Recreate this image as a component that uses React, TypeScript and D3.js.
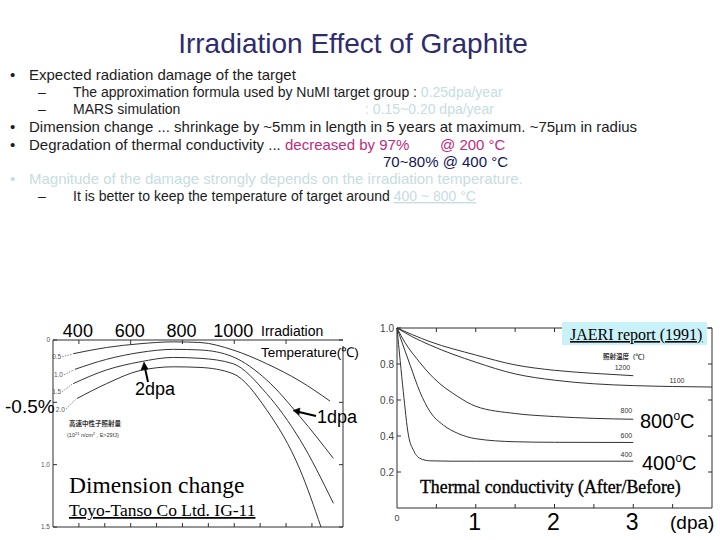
import React from 'react';
import * as d3 from 'd3';

// ---------- Left chart: dimension change (%) vs irradiation temperature (°C) ----------
const dimTemps05 = [378, 507, 636, 765, 868, 995, 1125, 1254, 1370];
const dimVals05 = [-0.11, -0.06, -0.03, -0.015, -0.02, -0.08, -0.19, -0.33, -0.49];
const dimTemps10 = [385, 507, 636, 765, 868, 995, 1125, 1254, 1383];
const dimVals10 = [-0.235, -0.155, -0.1, -0.075, -0.08, -0.135, -0.32, -0.615, -0.95];
const dimTemps15 = [378, 507, 636, 765, 868, 995, 1125, 1254, 1383];
const dimVals15 = [-0.35, -0.24, -0.175, -0.14, -0.147, -0.19, -0.43, -0.8, -1.31];
const dimTemps20 = [392, 507, 636, 765, 868, 995, 1125, 1254, 1335];
const dimVals20 = [-0.47, -0.35, -0.245, -0.215, -0.22, -0.27, -0.56, -1.04, -1.5];
const fluenceLabels = ['0.5', '1.0', '1.5', '2.0'];
const tempTickLabels = [400, 600, 800, 1000];
const tempMinorTicks = [400, 500, 600, 700, 800, 900, 1000, 1100, 1200, 1300];
const dimYTicks = [0, -0.5, -1.0, -1.5];
const dimYTickLabels = ['0', '', '1.0', '1.5'];

// ---------- Right chart: thermal conductivity ratio vs dpa ----------
const tcDpa1200 = [0, 0.2, 0.42, 1.0, 1.5, 2.0, 2.5, 3.0];
const tcVal1200 = [1, 0.962, 0.924, 0.85, 0.795, 0.765, 0.748, 0.735];
const tcDpa1100 = [0, 0.2, 0.42, 1.0, 1.5, 2.0, 2.5, 3.0, 3.5, 4.0];
const tcVal1100 = [1, 0.95, 0.905, 0.81, 0.745, 0.71, 0.69, 0.68, 0.675, 0.672];
const tcDpa800 = [0, 0.1, 0.25, 0.47, 0.77, 1.0, 1.5, 2.0, 2.5, 3.0];
const tcVal800 = [1, 0.92, 0.83, 0.72, 0.62, 0.565, 0.525, 0.508, 0.498, 0.493];
const tcDpa600 = [0, 0.08, 0.17, 0.29, 0.42, 0.59, 0.77, 1.0, 1.5, 2.0, 3.0];
const tcVal600 = [1, 0.9, 0.79, 0.646, 0.535, 0.46, 0.415, 0.385, 0.368, 0.365, 0.364];
const tcDpa400 = [0, 0.04, 0.08, 0.145, 0.21, 0.29, 0.42, 0.7, 1.0, 3.0];
const tcVal400 = [1, 0.82, 0.646, 0.405, 0.32, 0.276, 0.262, 0.26, 0.26, 0.26];
const tcTempLabels = ['1200', '1100', '800', '600', '400'];
const tcYTicks = [0.2, 0.4, 0.6, 0.8, 1.0];
const tcXTicks = [0.5, 1, 1.5, 2, 2.5, 3, 3.5];
const tcXBigLabels = [1, 2, 3];

const SANS = "'Liberation Sans', Arial, sans-serif";
const SERIF = "'Liberation Serif', 'Times New Roman', serif";
const CJK = "'Noto Sans CJK JP', sans-serif";
const DARK = '#1c1c1c';
const LIGHT = '#c6dde1';
const MAGENTA = '#c02c7c';
const NAVY = '#15145a';
const SCAN = '#2e2e2e';

export default function App() {
  // left chart scales
  const xL = d3.scaleLinear().domain([300, 1420]).range([53, 343]);
  const yL = d3.scaleLinear().domain([0, -1.5]).range([340, 527]);
  // right chart scales
  const xR = d3.scaleLinear().domain([0, 4]).range([397, 712]);
  const yR = d3.scaleLinear().domain([0, 1]).range([508, 328]);

  const dimSeries = [
    { t: dimTemps05, v: dimVals05 },
    { t: dimTemps10, v: dimVals10 },
    { t: dimTemps15, v: dimVals15 },
    { t: dimTemps20, v: dimVals20 },
  ];
  const tcSeries = [
    { d: tcDpa1200, v: tcVal1200, lab: 3.0, dx: -3, dy: -6 },
    { d: tcDpa1100, v: tcVal1100, lab: 3.65, dx: 0, dy: -4 },
    { d: tcDpa800, v: tcVal800, lab: 3.0, dx: -1, dy: -6 },
    { d: tcDpa600, v: tcVal600, lab: 3.0, dx: -1, dy: -4 },
    { d: tcDpa400, v: tcVal400, lab: 3.0, dx: -1, dy: -4 },
  ];

  const lineL = d3
    .line<[number, number]>()
    .x((p) => xL(p[0]))
    .y((p) => yL(p[1]))
    .curve(d3.curveMonotoneX);
  const lineR = d3
    .line<[number, number]>()
    .x((p) => xR(p[0]))
    .y((p) => yR(p[1]))
    .curve(d3.curveMonotoneX);

  const interp = (xs: number[], ys: number[], x: number) => {
    for (let i = 1; i < xs.length; i++) {
      if (x <= xs[i]) {
        const f = (x - xs[i - 1]) / (xs[i] - xs[i - 1]);
        return ys[i - 1] + f * (ys[i] - ys[i - 1]);
      }
    }
    return ys[ys.length - 1];
  };

  const L0 = xL(300), L1 = xL(1420), T0 = yL(0), B0 = yL(-1.5);
  const R0 = xR(0), R1 = xR(4), RT = yR(1), RB = yR(0);

  return (
    <svg
      width={720}
      height={540}
      viewBox="0 0 720 540"
      style={{ position: 'absolute', left: 0, top: 0, background: '#fff' }}
    >
      <rect x={0} y={0} width={720} height={540} fill="#fff" />
      {/* Title */}
      <text x={353} y={53} fontFamily={SANS} fontSize={28} textAnchor="middle" fill="#2e2b6e">
        Irradiation Effect of Graphite
      </text>

      {/* Bullet text */}
      <g fontFamily={SANS} fill={DARK}>
        <text x={10} y={80} fontSize={15}>•</text>
        <text x={29} y={80} fontSize={15}>Expected radiation damage of the target</text>
        <text x={38} y={97} fontSize={14}>–</text>
        <text x={73} y={97} fontSize={14}>
          The approximation formula used by NuMI target group : <tspan fill={LIGHT}>0.25dpa/year</tspan>
        </text>
        <text x={38} y={114} fontSize={14}>–</text>
        <text x={73} y={114} fontSize={14}>MARS simulation</text>
        <text x={365} y={114} fontSize={14} fill={LIGHT}>: 0.15~0.20 dpa/year</text>
        <text x={10} y={132} fontSize={15}>•</text>
        <text x={29} y={132} fontSize={15}>
          Dimension change ... shrinkage by ~5mm in length in 5 years at maximum. ~75µm in radius
        </text>
        <text x={10} y={150} fontSize={15}>•</text>
        <text x={29} y={150} fontSize={15}>
          Degradation of thermal conductivity ... <tspan fill={MAGENTA}>decreased by 97%</tspan>
        </text>
        <text x={440} y={150} fontSize={15} fill={MAGENTA}>@ 200 °C</text>
        <text x={383} y={167} fontSize={15} fill={NAVY}>70~80% @ 400 °C</text>
        <text x={10} y={184} fontSize={15} fill={LIGHT}>•</text>
        <text x={29} y={184} fontSize={15} fill={LIGHT}>
          Magnitude of the damage strongly depends on the irradiation temperature.
        </text>
        <text x={38} y={201} fontSize={14}>–</text>
        <text x={73} y={201} fontSize={14}>
          It is better to keep the temperature of target around{' '}
          <tspan fill={LIGHT} style={{ textDecoration: 'underline' }}>400 ~ 800 °C</tspan>
        </text>
      </g>

      {/* ---------- Left chart ---------- */}
      <g stroke={SCAN} fill="none" strokeWidth={1}>
        <line x1={L0} y1={T0} x2={L1} y2={T0} />
        <line x1={L0} y1={T0} x2={L0} y2={B0} />
        <line x1={L0} y1={B0} x2={L1} y2={B0} />
        <line x1={L1} y1={T0 + 6} x2={L1} y2={B0} />
        {tempTickLabels.concat([1200]).map((t) => (
          <line key={'tt' + t} x1={xL(t)} y1={T0} x2={xL(t)} y2={T0 + 4} />
        ))}
        {tempMinorTicks.map((t) => (
          <line key={'bt' + t} x1={xL(t)} y1={B0} x2={xL(t)} y2={B0 - 4} />
        ))}
        {dimYTicks.map((v) => (
          <g key={'yt' + v}>
            <line x1={L0} y1={yL(v)} x2={L0 + 4} y2={yL(v)} />
            <line x1={L1} y1={yL(v)} x2={L1 - 4} y2={yL(v)} />
          </g>
        ))}
        {dimSeries.map((s, i) => (
          <path
            key={'dim' + i}
            d={lineL(s.t.map((t, j) => [t, s.v[j]] as [number, number])) || ''}
            stroke="#333"
            strokeWidth={1}
          />
        ))}
        {dimSeries.map((s, i) => (
          <line
            key={'lead' + i}
            x1={xL(s.t[0]) - 11}
            y1={yL(s.v[0]) + 3 + i * 2.5}
            x2={xL(s.t[0]) - 1}
            y2={yL(s.v[0]) + 0.5}
            stroke="#555"
            strokeWidth={0.7}
            strokeDasharray="1.5,1.2"
          />
        ))}
      </g>
      <g fontFamily={SANS} fill="#555" fontSize={6.5}>
        {dimSeries.map((s, i) => (
          <text key={'fl' + i} x={xL(s.t[0]) - 12} y={yL(s.v[0]) + 5.5 + i * 2.5} textAnchor="end">
            {fluenceLabels[i]}
          </text>
        ))}
        {dimYTicks.map((v, i) => (
          <text key={'ytl' + i} x={L0 - 3} y={yL(v) + 2} textAnchor="end">
            {dimYTickLabels[i]}
          </text>
        ))}
      </g>
      <text x={69} y={426} fontFamily={CJK} fontSize={6.5} fontWeight="bold" fill="#333">高速中性子照射量</text>
      <text x={67} y={437} fontFamily={SANS} fontSize={5.5} fill="#333">
        (10<tspan dy={-2} fontSize={4}>21</tspan><tspan dy={2}> n/cm</tspan><tspan dy={-2} fontSize={4}>2</tspan><tspan dy={2}> , E&gt;29fJ)</tspan>
      </text>

      {/* Left chart overlay labels */}
      <g fontFamily={SANS} fill="#000">
        {tempTickLabels.map((t) => (
          <text key={'tl' + t} x={xL(t) - 1} y={337} fontSize={18} textAnchor="middle">
            {t}
          </text>
        ))}
        <text x={261} y={336} fontSize={14}>Irradiation</text>
        <text x={261} y={357} fontSize={13.5}>Temperature(℃)</text>
        <text x={5} y={413} fontSize={19}>-0.5%</text>
        <text x={135} y={395} fontSize={18}>2dpa</text>
        <text x={317} y={423} fontSize={18}>1dpa</text>
      </g>
      <g stroke="#000" strokeWidth={2} fill="#000">
        <line x1={148} y1={382} x2={145} y2={368} />
        <path d="M144,362 L141,370 L148,369 Z" strokeWidth={0.5} />
        <line x1={316} y1={416} x2={299} y2={412} />
        <path d="M293,410.5 L300,408 L299,415 Z" strokeWidth={0.5} />
      </g>
      <text x={69} y={493} fontFamily={SERIF} fontSize={23.5} fill="#000">Dimension change</text>
      <text x={69} y={516} fontFamily={SERIF} fontSize={17.5} fill="#000" style={{ textDecoration: 'underline' }}>
        Toyo-Tanso Co Ltd. IG-11
      </text>

      {/* ---------- Right chart ---------- */}
      <g stroke={SCAN} fill="none" strokeWidth={1}>
        <line x1={R0} y1={RT} x2={R1} y2={RT} />
        <line x1={R0} y1={RT} x2={R0} y2={RB} />
        <line x1={R0} y1={RB} x2={R1} y2={RB} />
        <line x1={R1} y1={RT} x2={R1} y2={RB} />
        {tcXTicks.map((d) => (
          <g key={'xt' + d}>
            <line x1={xR(d)} y1={RB} x2={xR(d)} y2={RB - 4} />
            <line x1={xR(d)} y1={RT} x2={xR(d)} y2={RT + 4} />
          </g>
        ))}
        {tcYTicks.map((v) => (
          <g key={'ryt' + v}>
            <line x1={R0} y1={yR(v)} x2={R0 + 4} y2={yR(v)} />
            <line x1={R1} y1={yR(v)} x2={R1 - 4} y2={yR(v)} />
          </g>
        ))}
        {tcSeries.map((s, i) => (
          <path
            key={'tc' + i}
            d={lineR(s.d.map((d, j) => [d, s.v[j]] as [number, number])) || ''}
            stroke="#333"
            strokeWidth={1}
          />
        ))}
      </g>
      <g fontFamily={SANS} fill="#444" fontSize={10}>
        {tcYTicks.map((v) => (
          <text key={'rytl' + v} x={R0 - 3} y={yR(v) + 3.5} textAnchor="end">
            {v.toFixed(1)}
          </text>
        ))}
        <text x={R0} y={521} fontSize={9} textAnchor="middle">0</text>
      </g>
      <g fontFamily={SANS} fill="#333" fontSize={7}>
        {tcSeries.map((s, i) => (
          <text
            key={'tcl' + i}
            x={xR(s.lab) + s.dx}
            y={yR(interp(s.d, s.v, s.lab)) + s.dy}
            textAnchor="end"
          >
            {tcTempLabels[i]}
          </text>
        ))}
      </g>
      <text x={603} y={359} fontFamily={CJK} fontSize={6.5} fontWeight="bold" fill="#333">照射温度（℃）</text>

      <rect x={562} y={322} width={145} height={23} fill="#c8f2f8" />
      <text x={570} y={340} fontFamily={SERIF} fontSize={16} fill="#000" style={{ textDecoration: 'underline' }}>
        JAERI report (1991)
      </text>

      <g fontFamily={SANS} fill="#000">
        <text x={640} y={428} fontSize={20}>
          800<tspan fontSize={12} dy={-8}>o</tspan><tspan dy={8}>C</tspan>
        </text>
        <text x={642} y={470} fontSize={20}>
          400<tspan fontSize={12} dy={-8}>o</tspan><tspan dy={8}>C</tspan>
        </text>
        {tcXBigLabels.map((d) => (
          <text key={'bx' + d} x={xR(d) - 1} y={530} fontSize={23} textAnchor="middle">
            {d}
          </text>
        ))}
        <text x={670} y={529} fontSize={19}>(dpa)</text>
      </g>
      <text x={420} y={493} fontFamily={SERIF} fontSize={17.8} fill="#000" stroke="#000" strokeWidth={0.35}>
        Thermal conductivity (After/Before)
      </text>
    </svg>
  );
}
